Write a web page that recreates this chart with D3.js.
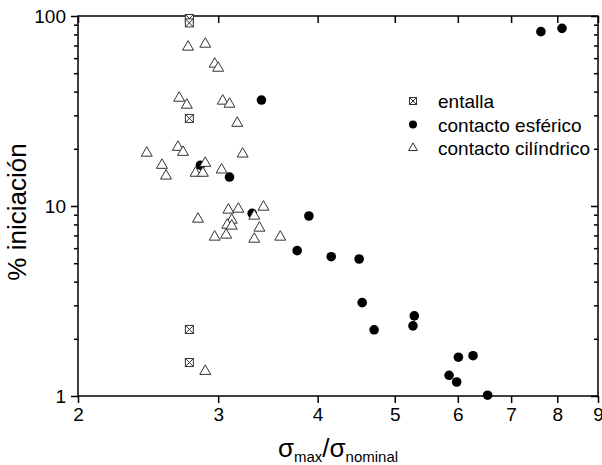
<!DOCTYPE html>
<html>
<head>
<meta charset="utf-8">
<script src="https://cdn.jsdelivr.net/npm/d3@7"></script>
<style>
  body { margin: 0; background: #fff; }
  svg text { font-family: "Liberation Sans", Arial, sans-serif; fill: #000; }
  .axis path, .axis line { stroke: #000; stroke-width: 1.5; }
</style>
</head>
<body>
<div id="chart"></div>
<script>
// entalla (notch) points: [sigma_max/sigma_nominal, % iniciacion]
var entallaX = [2.76, 2.76, 2.76, 2.76, 2.76];
var entallaY = [97, 92, 28.9, 2.24, 1.50];

// contacto esferico
var esfericoX = [3.40, 2.85, 3.10, 3.31, 3.90, 3.77, 4.16, 4.51, 4.55, 4.71,
                 5.29, 5.27, 6.01, 6.27, 5.85, 5.98, 6.54, 7.63, 8.11];
var esfericoY = [36.1, 16.4, 14.2, 9.15, 8.86, 5.82, 5.41, 5.26, 3.10, 2.23,
                 2.64, 2.34, 1.60, 1.63, 1.285, 1.185, 1.01, 82.7, 86.1];

// contacto cilindrico
var cilindricoX = [2.75, 2.89, 2.97, 3.00, 2.68, 2.74, 3.04, 3.10, 3.17, 2.44,
                   2.67, 2.71, 2.55, 2.58, 3.22, 2.89, 2.81, 2.87, 3.03, 2.83,
                   3.09, 3.18, 3.42, 3.33, 3.12, 3.08, 3.12, 3.38, 2.97, 3.07,
                   3.33, 3.59, 2.89];
var cilindricoY = [68.7, 71.2, 55.9, 53.2, 37.0, 34.0, 35.7, 34.4, 27.3, 19.0,
                   20.4, 19.2, 16.4, 14.4, 18.8, 16.8, 14.9, 14.9, 15.5, 8.54,
                   9.53, 9.64, 9.88, 8.86, 8.44, 7.94, 7.85, 7.66, 6.87, 7.04,
                   6.70, 6.87, 1.35];

var xTicks = [2, 3, 4, 5, 6, 7, 8, 9];
var yTicks = [1, 10, 100];
var yMinor = [2, 3, 4, 5, 6, 7, 8, 9, 20, 30, 40, 50, 60, 70, 80, 90];
var legendLabels = ["entalla", "contacto esférico", "contacto cilíndrico"];

function zip(xs, ys) {
  return xs.map(function(v, i) { return {x: v, y: ys[i]}; });
}

var margin = {top: 16, right: 4, bottom: 69, left: 78};
var width = 602 - margin.left - margin.right;
var height = 465 - margin.top - margin.bottom;

var svg = d3.select("#chart").append("svg")
    .attr("width", 602)
    .attr("height", 465)
  .append("g")
    .attr("transform", "translate(" + margin.left + "," + margin.top + ")");

var x = d3.scaleLog().domain([2, 9]).range([0, width]);
var y = d3.scaleLog().domain([1, 100]).range([height, 0]);

// frame
svg.append("rect")
    .attr("width", width).attr("height", height)
    .attr("fill", "none").attr("stroke", "#000").attr("stroke-width", 1.5);

// bottom axis
var bottom = svg.append("g").attr("class", "axis")
    .attr("transform", "translate(0," + height + ")")
    .call(d3.axisBottom(x).tickValues(xTicks).tickFormat(d3.format("d"))
      .tickSize(7).tickSizeOuter(0).tickPadding(5));
// top axis, ticks inside
svg.append("g").attr("class", "axis")
    .call(d3.axisBottom(x).tickValues(xTicks).tickFormat("")
      .tickSize(7).tickSizeOuter(0));

// left axis
var left = svg.append("g").attr("class", "axis")
    .call(d3.axisLeft(y).tickValues(yTicks).tickFormat(d3.format("d"))
      .tickSize(7).tickSizeOuter(0).tickPadding(5));
svg.append("g").attr("class", "axis")
    .call(d3.axisLeft(y).tickValues(yMinor).tickFormat("")
      .tickSize(4).tickSizeOuter(0));
// right axis, ticks inside
svg.append("g").attr("class", "axis")
    .attr("transform", "translate(" + width + ",0)")
    .call(d3.axisLeft(y).tickValues(yTicks).tickFormat("")
      .tickSize(7).tickSizeOuter(0));
svg.append("g").attr("class", "axis")
    .attr("transform", "translate(" + width + ",0)")
    .call(d3.axisLeft(y).tickValues(yMinor).tickFormat("")
      .tickSize(4).tickSizeOuter(0));

svg.selectAll(".axis path.domain").remove();
bottom.selectAll("text").attr("font-size", 19).attr("font-family", "Liberation Sans, Arial, sans-serif").attr("fill", "#000");
left.selectAll("text").attr("font-size", 19).attr("font-family", "Liberation Sans, Arial, sans-serif").attr("fill", "#000");

// axis titles
svg.append("text")
    .attr("transform", "translate(" + (-52) + "," + (height / 2 + 6) + ") rotate(-90)")
    .attr("text-anchor", "middle")
    .attr("font-size", 26)
    .text("% iniciación");

var xt = svg.append("text")
    .attr("x", width / 2)
    .attr("y", height + 61)
    .attr("text-anchor", "middle")
    .attr("font-size", 26);
xt.append("tspan").text("σ");
xt.append("tspan").attr("font-size", 15).attr("dy", 5).text("max");
xt.append("tspan").attr("dy", -5).text("/σ");
xt.append("tspan").attr("font-size", 15).attr("dy", 5).text("nominal");

// markers
function square(g, s) {
  g.append("rect").attr("x", -s / 2).attr("y", -s / 2).attr("width", s).attr("height", s)
    .attr("fill", "#fff").attr("stroke", "#333").attr("stroke-width", 1);
  g.append("path").attr("d", "M" + (-s / 2) + "," + (-s / 2) + "L" + (s / 2) + "," + (s / 2) +
      "M" + (s / 2) + "," + (-s / 2) + "L" + (-s / 2) + "," + (s / 2))
    .attr("stroke", "#333").attr("stroke-width", 1);
}
var tri = d3.symbol().type(d3.symbolTriangle).size(52);
var triSmall = d3.symbol().type(d3.symbolTriangle).size(34);

svg.selectAll(".sq").data(zip(entallaX, entallaY)).enter().append("g")
    .attr("class", "sq")
    .attr("transform", function(d) { return "translate(" + x(d.x) + "," + y(d.y) + ")"; })
    .each(function() { square(d3.select(this), 8); });

svg.selectAll(".dot").data(zip(esfericoX, esfericoY)).enter().append("circle")
    .attr("class", "dot")
    .attr("cx", function(d) { return x(d.x); })
    .attr("cy", function(d) { return y(d.y); })
    .attr("r", 4.8)
    .attr("fill", "#000");

svg.selectAll(".tri").data(zip(cilindricoX, cilindricoY)).enter().append("path")
    .attr("class", "tri")
    .attr("transform", function(d) { return "translate(" + x(d.x) + "," + y(d.y) + ")"; })
    .attr("d", tri)
    .attr("fill", "#fff")
    .attr("stroke", "#333")
    .attr("stroke-width", 1);

// legend
var legend = svg.append("g").attr("transform", "translate(" + (413 - margin.left) + "," + (101 - margin.top) + ")");
legendLabels.forEach(function(lab, i) {
  var row = legend.append("g").attr("transform", "translate(0," + (i * 23.5) + ")");
  if (i === 0) square(row, 7);
  if (i === 1) row.append("circle").attr("r", 4).attr("fill", "#000");
  if (i === 2) row.append("path").attr("d", triSmall).attr("fill", "#fff").attr("stroke", "#333");
  row.append("text").attr("x", 25).attr("y", 7).attr("font-size", 19).text(lab);
});
</script>
</body>
</html>
